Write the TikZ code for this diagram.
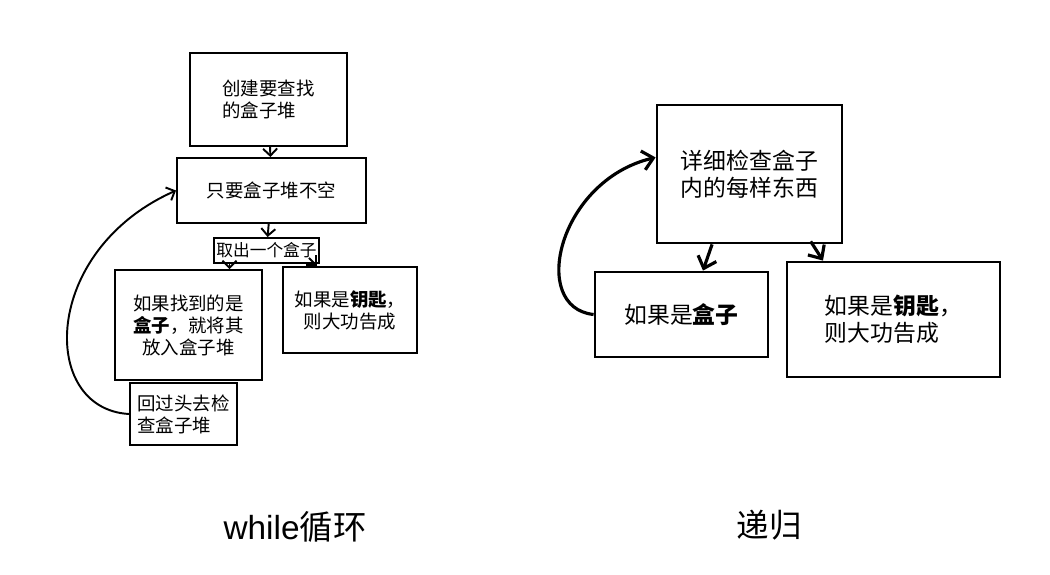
\documentclass[tikz,border=0pt]{standalone}
\usepackage{fontspec}
\setmainfont{Liberation Sans}
\newfontfamily\cjk{Noto Sans CJK SC}
\usetikzlibrary{calc, arrows.meta}

\begin{document}
\begin{tikzpicture}[>={Straight Barb[length=4pt,width=8pt]},
  scatola/.style={draw, line width=1.1pt, inner sep=2pt, font=\cjk\fontsize{10.5}{12.5}\selectfont},
  grande/.style={draw, line width=1.6pt, inner sep=2pt, font=\cjk\fontsize{13}{15.5}\selectfont},
  freccia/.style={->, line width=1.1pt},
  frecciona/.style={-{Straight Barb[length=6pt,width=11pt]}, line width=1.8pt}]

% cornice
\useasboundingbox (0,0) rectangle (21,-11.48);

% ciclo while
\node[scatola, minimum width=3.14cm, minimum height=1.86cm, align=left] (L1) at (5.37,-1.99) {创建要查找\\的盒子堆};
\node[scatola, minimum width=3.78cm, minimum height=1.3cm] (L2) at (5.43,-3.81) {只要盒子堆不空};
\node[scatola, minimum width=2.1cm, minimum height=0.5cm, inner sep=1pt, font=\cjk\fontsize{9.5}{11}\selectfont] (L3) at (5.33,-5.01) {取出一个盒子};
\node[scatola, minimum width=2.94cm, minimum height=2.2cm, align=center] (L4) at (3.77,-6.5) {如果找到的是\\\textbf{盒子}，就将其\\放入盒子堆};
\node[scatola, minimum width=2.68cm, minimum height=1.72cm, align=center] (L5) at (7.0,-6.2) {如果是\textbf{钥匙}，\\则大功告成};
\node[scatola, minimum width=2.14cm, minimum height=1.24cm, align=left] (L6) at (3.67,-8.28) {回过头去检\\查盒子堆};

\draw[freccia] (L1) -- (L2);
\draw[freccia] (L2) -- (L3);
\draw[freccia] (L3.200) -- (L3.200 |- L4.north);
\draw[freccia] ($(L3.south east)+(-0.22,0.12)$) -- ($(L5.north west)+(0.7,0)$);
\draw[freccia] (L6.west) .. controls +(-1.8,0.1) and +(-2.7,-1.2) .. (L2.west);

% ricorsione
\node[grande, minimum width=3.7cm, minimum height=2.76cm, align=left] (R1) at (14.99,-3.48) {详细检查盒子\\内的每样东西};
\node[grande, minimum width=3.46cm, minimum height=1.7cm] (R2) at (13.63,-6.29) {如果是\textbf{盒子}};
\node[grande, minimum width=4.26cm, minimum height=2.3cm, align=left] (R3) at (17.87,-6.39) {如果是\textbf{钥匙}，\\则大功告成};

\draw[frecciona] (R1.242) -- ($(R2.north)+(0.43,0)$);
\draw[frecciona] ($(R1.311)+(0,0.06)$) -- ($(R3.north)+(-1.41,0)$);
\draw[frecciona] (R2.west) .. controls +(-1.3,0.14) and +(-1.94,-0.46) .. (R1.170);

% didascalie
\node[font=\fontsize{19}{22}\selectfont] (T1) at (5.9,-10.54) {while{\cjk 循环}};
\node[font=\cjk\fontsize{18.5}{22}\selectfont] (T2) at (15.39,-10.5) {递归};

\end{tikzpicture}
\end{document}
